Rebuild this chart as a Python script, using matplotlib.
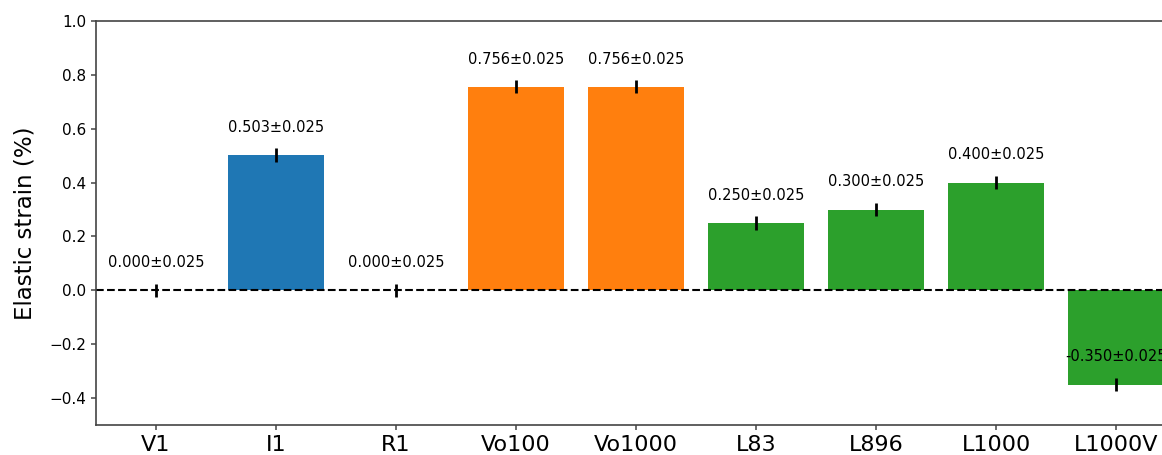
import numpy as np
import matplotlib.pyplot as plt

# strain values
samples = ['V1', 'I1', 'R1', 'Vo100', 'Vo1000', 'L83', 'L896', 'L1000', 'L1000V']
strain = [0.000, 0.503, 0.000, 0.756, 0.756, 0.250, 0.300, 0.400, -0.350]
strain_err = [0.025] * len(samples)
bar_colors = ['#1f77b4', '#1f77b4', '#1f77b4', '#ff7f0e', '#ff7f0e',
              '#2ca02c', '#2ca02c', '#2ca02c', '#2ca02c']

fig = plt.figure(figsize=(11.62, 4.55), dpi=100)
# axes runs a little past the right edge, as in the reference
ax = fig.add_axes([96 / 1162, 30 / 455, 1080 / 1162, 404 / 455])

x = np.arange(len(samples))
ax.bar(x, strain, width=0.8, color=bar_colors)
ax.errorbar(x, strain, yerr=strain_err, fmt='none', ecolor='black',
            elinewidth=2, capsize=0)
ax.axhline(0, color='black', linestyle='--', linewidth=1.5)

for xi, val, err in zip(x, strain, strain_err):
    ax.text(xi, val + 0.075, f'{val:.3f}\u00b1{err:.3f}', ha='center',
            va='bottom', fontsize=10.5)

ax.set_xlim(-0.5, len(samples) - 0.5)
ax.set_ylim(-0.5, 1.0)
ax.set_xticks(x)
ax.set_xticklabels(samples, fontsize=16)
ax.tick_params(axis='y', labelsize=11)
ax.tick_params(color='#444444', width=1.1)
ax.set_ylabel('Elastic strain (%)', fontsize=16.5, labelpad=9)
ax.spines['right'].set_visible(False)
for side in ['left', 'top', 'bottom']:
    ax.spines[side].set_color('#444444')
    ax.spines[side].set_linewidth(1.2)

fig.savefig('out.png', dpi=100)
